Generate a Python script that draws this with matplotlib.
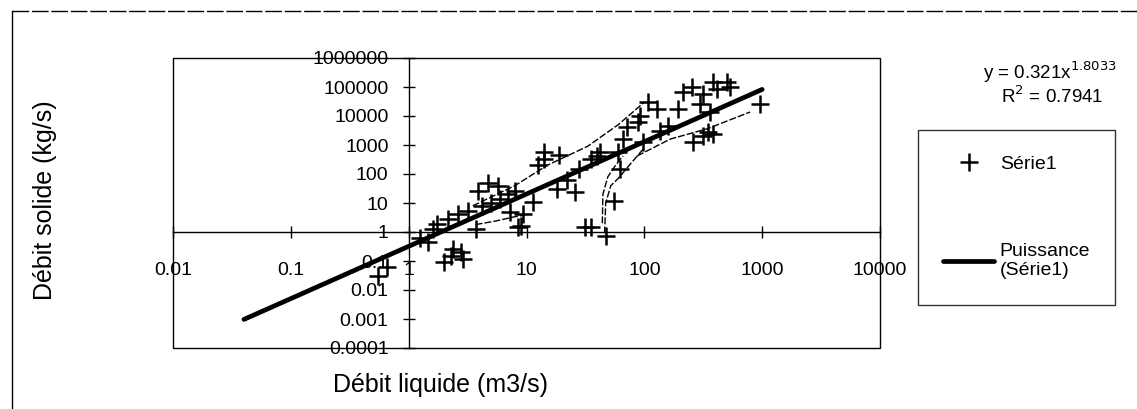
import numpy as np
import matplotlib
matplotlib.use("Agg")
import matplotlib.pyplot as plt
from matplotlib.patches import Rectangle
from matplotlib.lines import Line2D
from matplotlib.ticker import FixedLocator, FixedFormatter

plt.rcParams['font.family'] = ['Liberation Sans', 'DejaVu Sans']

# --- data ---
q_liquide = [0.55, 0.65, 1.26, 1.45, 1.6, 1.75, 2.0, 2.3, 2.4, 2.8, 2.9, 2.15, 2.6, 3.2,
             3.7, 3.9, 4.7, 5.7, 4.2, 5.0, 6.0, 7.3, 8.5, 8.9, 9.4, 7.0, 8.0, 11.4,
             12.4, 14.0, 14.0, 18.7, 18.0, 26.0, 22.0, 28.0, 31.6, 35.0, 47.0, 55.0,
             35.0, 40.0, 42.0, 60.0, 62.0, 66.0, 71.0, 89.0, 92.0, 98.0, 108.0, 128.0,
             136.0, 159.0, 194.0, 213.0, 254.0, 260.0, 298.0, 316.0, 316.0, 350.0,
             361.0, 385.0, 385.0, 415.0, 507.0, 534.0, 960.0]
q_solide = [0.03, 0.06, 0.6, 0.45, 1.3, 1.9, 0.09, 0.15, 0.26, 0.2, 0.12, 2.8, 4.2, 5.5,
            1.3, 26, 50, 38, 8, 10, 14, 5, 1.5, 1.6, 4.2, 20, 25, 11,
            200, 330, 570, 450, 30, 24, 60, 150, 1.5, 1.5, 0.7, 12,
            330, 420, 570, 570, 150, 1600, 4200, 6300, 10000, 1300, 30000, 17500,
            3000, 4500, 17500, 67000, 100000, 1300, 26000, 57000, 2000, 2800,
            13700, 2400, 145000, 85000, 150000, 100000, 26000]

# thin curves visible in the scan
curve_haut_x = [3.5, 8, 15, 33, 60, 100]
curve_haut_y = [8, 40, 200, 900, 5000, 30000]
curve_bas1_x = [3.7, 5.5, 7.8, 9.5]
curve_bas1_y = [1.8, 2.4, 3.3, 3.8]
curve_bas2_x = [87, 166, 340, 790]
curve_bas2_y = [420, 1600, 3600, 13700]
crochet1_x = [46, 47, 52, 60, 76, 100]
crochet1_y = [0.9, 10, 40, 70, 220, 800]
crochet2_x = [44, 44.5, 49, 57, 66]
crochet2_y = [2, 20, 80, 200, 420]

# power trendline y = a * x^b
coef_a = 0.321
coef_b = 1.8033
fit_x = np.array([0.04, 1000])
fit_y = coef_a * fit_x ** coef_b

x_ticks = [0.01, 0.1, 1, 10, 100, 1000, 10000]
x_ticklabels = ['0.01', '0.1', '1', '10', '100', '1000', '10000']
y_ticks = [0.0001, 0.001, 0.01, 0.1, 1, 10, 100, 1000, 10000, 100000, 1000000]
y_ticklabels = ['0.0001', '0.001', '0.01', '0.1', '1', '10', '100', '1000',
                '10000', '100000', '1000000']

W, H = 1137, 409
fig = plt.figure(figsize=(W / 100, H / 100), dpi=100)

# outer chart border (top and left visible in the scan)
fig.add_artist(Line2D([12 / W, 12 / W], [0, 1 - 11 / H], transform=fig.transFigure,
                      color='black', lw=1.0))
fig.add_artist(Line2D([12 / W, 1], [1 - 11 / H, 1 - 11 / H], transform=fig.transFigure,
                      color='black', lw=1.0, ls=(0, (12, 2))))

ax = fig.add_axes([173 / W, 1 - 348 / H, (880 - 173) / W, (348 - 58) / H])
ax.set_xscale('log')
ax.set_yscale('log')
ax.set_xlim(0.01, 10000)
ax.set_ylim(0.0001, 1000000)

for c_x, c_y in [(curve_haut_x, curve_haut_y), (curve_bas1_x, curve_bas1_y),
                 (curve_bas2_x, curve_bas2_y), (crochet1_x, crochet1_y),
                 (crochet2_x, crochet2_y)]:
    ax.plot(c_x, c_y, color='black', lw=1.0, ls=(0, (5, 1.5)))

sc, = ax.plot(q_liquide, q_solide, ls='none', marker='+', ms=13, mew=1.8, color='black')
fit, = ax.plot(fit_x, fit_y, color='black', lw=3.4, solid_capstyle='round')

# axes cross at 1 / 1 as in Excel
for s in ['top', 'right']:
    ax.spines[s].set_visible(False)
ax.spines['left'].set_position(('data', 1))
ax.spines['bottom'].set_position(('data', 1))
ax.spines['left'].set_linewidth(1.0)
ax.spines['bottom'].set_linewidth(1.0)
ax.add_patch(Rectangle((0, 0), 1, 1, transform=ax.transAxes, fill=False,
                       ec='black', lw=1.0, clip_on=False))

ax.xaxis.set_major_locator(FixedLocator(x_ticks))
ax.xaxis.set_major_formatter(FixedFormatter(x_ticklabels))
ax.yaxis.set_major_locator(FixedLocator(y_ticks))
ax.yaxis.set_major_formatter(FixedFormatter(y_ticklabels))
ax.xaxis.set_minor_locator(FixedLocator([]))
ax.yaxis.set_minor_locator(FixedLocator([]))
ax.tick_params(axis='x', direction='inout', length=9, width=1.0, pad=17, labelsize=14)
ax.tick_params(axis='y', direction='inout', length=9, width=1.0, pad=10, labelsize=14)

fig.text(45 / W, 1 - 200 / H, 'Débit solide (kg/s)', rotation=90, ha='center',
         va='center', fontsize=18)
fig.text(441 / W, 1 - 385 / H, 'Débit liquide (m3/s)', ha='center', va='center',
         fontsize=18)

fig.text(1117 / W, 1 - 72 / H, 'y = 0.321x$^{1.8033}$', ha='right', va='center',
         fontsize=13.5)
fig.text(1103 / W, 1 - 96 / H, 'R$^{2}$ = 0.7941', ha='right', va='center',
         fontsize=13.5)

leg = fig.legend([sc, fit], ['Série1', 'Puissance\n(Série1)'],
                 loc='upper left', bbox_to_anchor=(918 / W, 1 - 130 / H),
                 frameon=True, fancybox=False, fontsize=14, labelspacing=3.6,
                 borderpad=1.3, handlelength=2.6, handletextpad=0.3,
                 borderaxespad=0)
leg.get_frame().set_edgecolor('black')
leg.get_frame().set_linewidth(1.0)

fig.savefig('out.png', dpi=100)
